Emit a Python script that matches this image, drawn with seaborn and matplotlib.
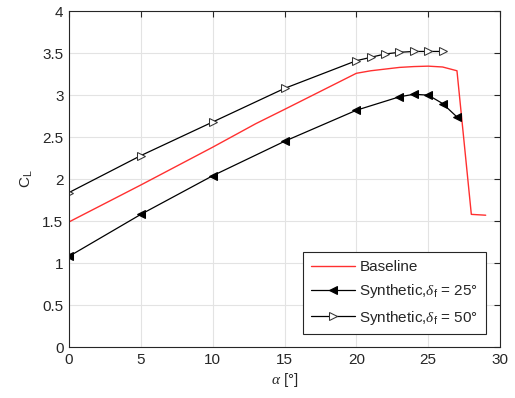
import matplotlib
matplotlib.use("Agg")
import matplotlib.pyplot as plt
import seaborn as sns
import pandas as pd

# Lift coefficient vs angle of attack
alpha_base = [0, 5, 10, 13, 15, 20, 21, 22, 23, 24, 25, 26, 27, 28, 29]
cl_base = [1.49, 1.93, 2.38, 2.66, 2.83, 3.26, 3.29, 3.31, 3.33, 3.34, 3.345, 3.335, 3.29, 1.58, 1.57]

alpha_25 = [0, 5, 10, 15, 20, 23, 24, 25, 26, 27]
cl_25 = [1.08, 1.58, 2.04, 2.45, 2.82, 2.98, 3.01, 3.00, 2.90, 2.74]

alpha_50 = [0, 5, 10, 15, 20, 21, 22, 23, 24, 25, 26]
cl_50 = [1.84, 2.28, 2.68, 3.08, 3.41, 3.45, 3.49, 3.51, 3.52, 3.52, 3.52]

x_ticks = [0, 5, 10, 15, 20, 25, 30]
y_ticks = [0, 0.5, 1, 1.5, 2, 2.5, 3, 3.5, 4]
y_tick_labels = ["0", "0.5", "1", "1.5", "2", "2.5", "3", "3.5", "4"]

sns.set_theme(style="whitegrid")
plt.rcParams["font.family"] = ["Liberation Sans", "DejaVu Sans"]
plt.rcParams["mathtext.fontset"] = "custom"
plt.rcParams["mathtext.rm"] = "Liberation Sans"
plt.rcParams["mathtext.it"] = "Liberation Serif:italic"

df_base = pd.DataFrame({"alpha": alpha_base, "cl": cl_base})
df_25 = pd.DataFrame({"alpha": alpha_25, "cl": cl_25})
df_50 = pd.DataFrame({"alpha": alpha_50, "cl": cl_50})

fig = plt.figure(figsize=(5.15, 3.98), dpi=100)
ax = fig.add_axes([0.134, 0.128, 0.837, 0.844])

sns.lineplot(data=df_base, x="alpha", y="cl", ax=ax, color="#ff3030", lw=1.0,
             label="Baseline", sort=False, estimator=None)
sns.lineplot(data=df_25, x="alpha", y="cl", ax=ax, color="black", lw=0.9,
             marker="<", markersize=6, markerfacecolor="black", markeredgecolor="black",
             label=r"Synthetic,$\it{\delta}_\mathrm{f}$ = 25°", sort=False, estimator=None)
sns.lineplot(data=df_50, x="alpha", y="cl", ax=ax, color="black", lw=0.9,
             marker=">", markersize=6, markerfacecolor="white", markeredgecolor="#333333",
             label=r"Synthetic,$\it{\delta}_\mathrm{f}$ = 50°", sort=False, estimator=None)

ax.set_xlim(0, 30)
ax.set_ylim(0, 4)
ax.set_xticks(x_ticks)
ax.set_yticks(y_ticks)
ax.set_yticklabels(y_tick_labels)
ax.tick_params(axis="both", which="both", direction="in", length=4, width=0.8,
               colors="#262626", labelsize=11, top=True, right=True,
               labeltop=False, labelright=False, pad=4)
for lbl in ax.get_xticklabels() + ax.get_yticklabels():
    lbl.set_color("#262626")

ax.grid(True, color="#e3e3e3", lw=0.8)
for s in ax.spines.values():
    s.set_color("#262626")
    s.set_linewidth(0.8)
ax.set_facecolor("white")

ax.set_xlabel(r"$\it{\alpha}$ [°]", fontsize=11, color="#262626", labelpad=3)
ax.set_ylabel(r"C$_\mathrm{L}$", fontsize=11, color="#262626", labelpad=5)

leg = ax.legend(loc="lower right", bbox_to_anchor=(0.985, 0.015), fontsize=11,
                frameon=True, fancybox=False, framealpha=1, edgecolor="#262626",
                handlelength=2.9, handletextpad=0.3, borderpad=0.5, labelspacing=0.55)
leg.get_frame().set_linewidth(0.8)

fig.savefig("out.png", dpi=100, facecolor="white")
